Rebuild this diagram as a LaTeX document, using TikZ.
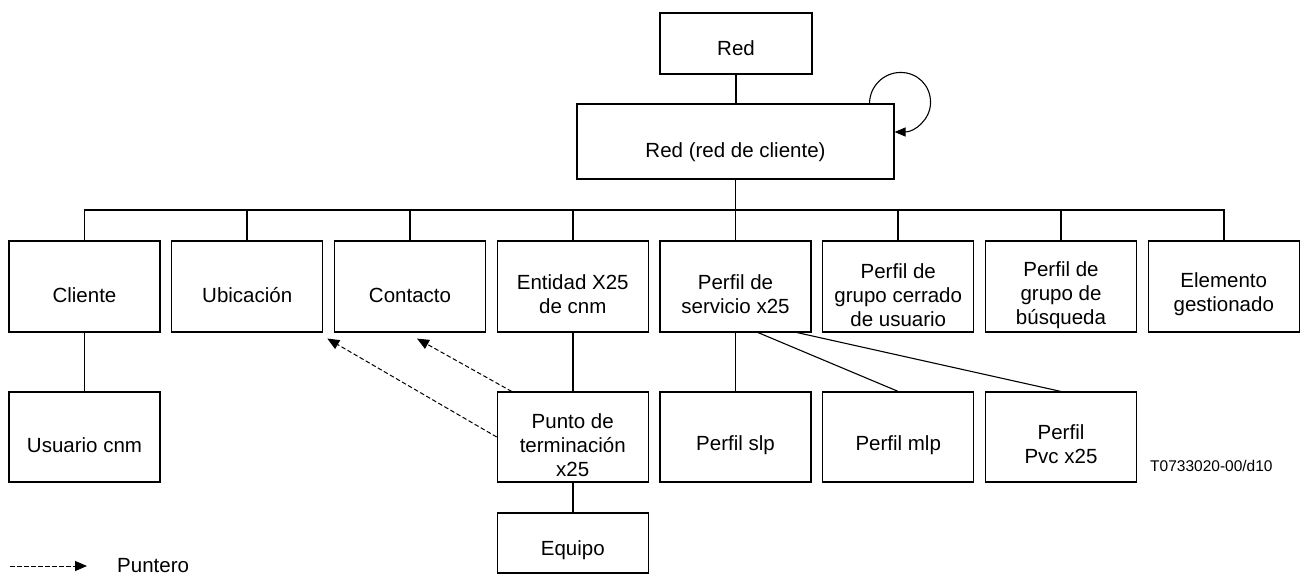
\documentclass[tikz,border=0pt]{standalone}
\usepackage{fontspec}
\setmainfont{Liberation Sans}
\usetikzlibrary{arrows.meta}
\begin{document}
\begin{tikzpicture}[x=1pt,y=-1pt,
  box/.style={draw, line width=1.1pt, minimum width=151pt, minimum height=91pt, inner sep=0pt},
  box2/.style={box, minimum height=90pt},
  lbl/.style={font=\fontsize{20.5}{24}\selectfont, align=center, inner sep=0pt},
  conn/.style={line width=1.6pt},
  thinconn/.style={line width=1.1pt},
  ptr/.style={line width=1pt, dash pattern=on 4.5pt off 2.5pt, -{Triangle[length=12pt,width=10pt]}},
]
\useasboundingbox (0,0) rectangle (1303,579);

% top
\node[box, minimum width=152pt, minimum height=61pt] (red) at (736,43.5) {};
\node[lbl] (redT) at (736,48) {Red};
\node[box, minimum width=317pt, minimum height=75pt] (rc) at (735.5,141.5) {};
\node[lbl] (rcT) at (735.5,152) {Red (red de cliente)};

% row 1
\node[box] (b0) at (84.5,286.5) {};
\node[box] (b1) at (247.25,286.5) {};
\node[box] (b2) at (410,286.5) {};
\node[box] (b3) at (572.75,286.5) {};
\node[box] (b4) at (735.5,286.5) {};
\node[box] (b5) at (898.25,286.5) {};
\node[box] (b6) at (1061,286.5) {};
\node[box] (b7) at (1223.75,286.5) {};
\node[lbl] (t0) at (84.5,295) {Cliente};
\node[lbl] (t1) at (247.25,295) {Ubicación};
\node[lbl] (t2) at (410,295) {Contacto};
\node[lbl] (t3) at (572.75,294) {Entidad X25\\de cnm};
\node[lbl] (t4) at (735.5,294) {Perfil de\\servicio x25};
\node[lbl] (t5) at (898.25,295) {Perfil de\\grupo cerrado\\de usuario};
\node[lbl] (t6) at (1061,295) {Perfil de\\grupo de\\búsqueda};
\node[lbl] (t7) at (1223.75,294) {Elemento\\gestionado};

% row 2
\node[box2] (usr) at (84.5,437) {};
\node[box2] (pt) at (572.75,437) {};
\node[box2] (slp) at (735.5,437) {};
\node[box2] (mlp) at (898.25,437) {};
\node[box2] (pvc) at (1061,437) {};
\node[lbl] (usrT) at (84.5,445) {Usuario cnm};
\node[lbl] (ptT) at (572.75,445) {Punto de\\terminación\\x25};
\node[lbl] (slpT) at (735.5,445) {Perfil slp};
\node[lbl] (mlpT) at (898.25,445) {Perfil mlp};
\node[lbl] (pvcT) at (1061,444) {Perfil\\Pvc x25};

% row 3
\node[box, minimum height=60pt] (eq) at (572.75,543) {};
\node[lbl] (eqT) at (572.75,550) {Equipo};

% tree connectors
\coordinate (hub) at (735.5,210);
\draw[conn] (red.south) -- (red.south |- rc.north);
\draw[conn] (rc.south) -- (rc.south |- hub);
\draw[conn] (b0.north) -- (b0.north |- hub) -- (b7.north |- hub) -- (b7.north);
\foreach \i in {1,...,6} {\draw[conn] (b\i.north) -- (b\i.north |- hub);}
\draw[conn] (b0) -- (usr);
\draw[conn] (b3) -- (pt);
\draw[conn] (pt) -- (eq);
\draw[conn] (b4) -- (slp);
\draw[thinconn] ([xshift=22.5pt]b4.south) -- (mlp.north);
\draw[thinconn] ([xshift=61.5pt]b4.south) -- (pvc.north);

% self loop
\draw[thinconn, -{Triangle[length=11pt,width=9pt]}]
  ([xshift=-25pt]rc.north east) .. controls +(0,-17) and +(-17,0) .. ++(31,-31)
  .. controls +(17,0) and +(0,-17) .. ++(30,30)
  .. controls +(0,17) and +(20,0) .. ([yshift=9.5pt]rc.east);

% pointers
\draw[ptr] ([xshift=15pt]pt.north west) -- ([xshift=7pt,yshift=-6pt]b2.south);
\draw[ptr] (pt.west) -- ([xshift=4pt,yshift=-6pt]b1.south east);

% legend
\coordinate (lg) at (10,566);
\node[lbl, anchor=west] (pun) at (117,566) {Puntero};
\draw[ptr] (lg) -- ([xshift=-30pt]pun.west);

\node[font=\fontsize{15.5}{18}\selectfont, anchor=west, inner sep=0pt] (ref) at (1150,466) {T0733020-00/d10};
\end{tikzpicture}
\end{document}
